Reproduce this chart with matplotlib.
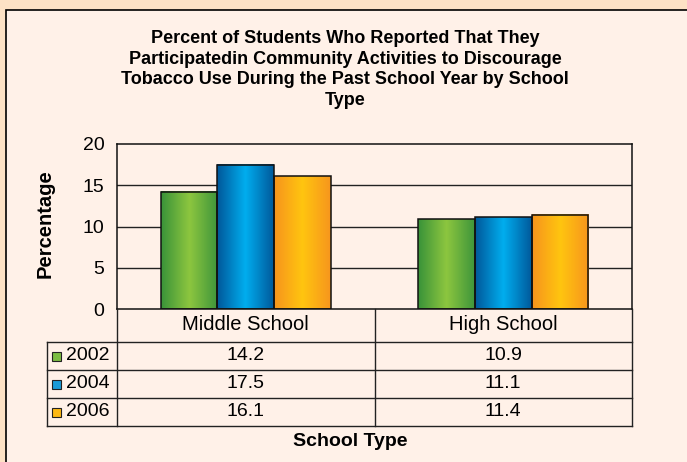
import numpy as np
import matplotlib.pyplot as plt
from matplotlib.patches import Rectangle
from matplotlib.colors import LinearSegmentedColormap

plt.rcParams['font.family'] = ['Liberation Sans', 'DejaVu Sans']

# data
categories = ['Middle School', 'High School']
years = ['2002', '2004', '2006']
values = {
    '2002': [14.2, 10.9],
    '2004': [17.5, 11.1],
    '2006': [16.1, 11.4],
}
title = ('Percent of Students Who Reported That They\n'
         'Participatedin Community Activities to Discourage\n'
         'Tobacco Use During the Past School Year by School\n'
         'Type')

# gradient colours (edge, centre, edge) and key colours
grad = {
    '2002': ['#3a9339', '#8dc63f', '#3f963b'],
    '2004': ['#00589a', '#00aeef', '#005a9c'],
    '2006': ['#f7941d', '#ffc50f', '#f7961d'],
}
key_col = {'2002': '#7cbd42', '2004': '#1b9bd7', '2006': '#fdb914'}

W, H = 687, 462
fig = plt.figure(figsize=(W / 100, H / 100), dpi=100)
fig.patch.set_facecolor('#fde2c5')

# inner panel
panel = Rectangle((6 / W, -0.1), 1, 1.1 - 10 / H, transform=fig.transFigure,
                  facecolor='#fff1e8', edgecolor='black', lw=1.2, zorder=-5)
fig.patches.append(panel)

L, R, T, B = 117, 632, 144, 309
ax = fig.add_axes([L / W, 1 - B / H, (R - L) / W, (B - T) / H])
ax.set_facecolor('none')
ax.set_ylim(0, 20)
ax.set_xlim(0, 2)
ax.set_yticks([0, 5, 10, 15, 20])
ax.tick_params(axis='y', length=0, labelsize=14, pad=9)
ax.set_xticks([])
for y in [5, 10, 15]:
    ax.axhline(y, color='#222222', lw=1, zorder=1)
for s in ax.spines.values():
    s.set_color('#111111')
    s.set_linewidth(1.1)

bw = 0.22
x = np.arange(len(categories)) + 0.5
g = np.linspace(0, 1, 64)
for i, yr in enumerate(years):
    cmap = LinearSegmentedColormap.from_list('g' + yr, grad[yr])
    for j, v in enumerate(values[yr]):
        x0 = x[j] + (i - 1) * bw - bw / 2
        ax.imshow(g[np.newaxis, :], cmap=cmap, aspect='auto',
                  extent=[x0, x0 + bw, 0, v], zorder=2)
        ax.add_patch(Rectangle((x0, 0), bw, v, facecolor='none',
                               edgecolor='#111111', lw=1.1, zorder=3))
ax.set_xlim(0, 2)
ax.set_ylim(0, 20)

# helpers for figure pixel coordinates
def fx(px):
    return px / W

def fy(py):
    return 1 - py / H

fig.text(fx(45), fy(224), 'Percentage', rotation=90, ha='center', va='center',
         fontsize=14.5, fontweight='bold')

fig.text(fx(345), fy(69.5), title, ha='center', va='center',
         fontsize=13, fontweight='bold', linespacing=1.29)

# data table
line_kw = dict(color='#222222', lw=1.0, transform=fig.transFigure)
row_lines = [342, 370, 398, 426]
for ry in row_lines:
    fig.add_artist(plt.Line2D([fx(47), fx(R)], [fy(ry), fy(ry)], **line_kw))
mid = (L + R) / 2
for vx in [L, mid, R]:
    fig.add_artist(plt.Line2D([fx(vx), fx(vx)], [fy(B), fy(426)], **line_kw))
fig.add_artist(plt.Line2D([fx(47), fx(47)], [fy(342), fy(426)], **line_kw))

cat_px = [(L + mid) / 2, (mid + R) / 2]
for j, c in enumerate(categories):
    fig.text(fx(cat_px[j]), fy(325), c, ha='center', va='center', fontsize=14.5)

for i, yr in enumerate(years):
    cy = (row_lines[i] + row_lines[i + 1]) / 2
    fig.patches.append(Rectangle((fx(52), fy(cy + 4.5)), 9 / W, 9 / H,
                                 transform=fig.transFigure,
                                 facecolor=key_col[yr], edgecolor='#222222', lw=0.8))
    fig.text(fx(66), fy(cy), yr, ha='left', va='center', fontsize=14)
    for j in range(len(categories)):
        fig.text(fx(cat_px[j]), fy(cy), f'{values[yr][j]:.1f}',
                 ha='center', va='center', fontsize=14)

fig.text(fx(350), fy(442), 'School Type',
         ha='center', va='center', fontsize=14, fontweight='bold')

plt.savefig('out.png', dpi=100, facecolor=fig.get_facecolor())
